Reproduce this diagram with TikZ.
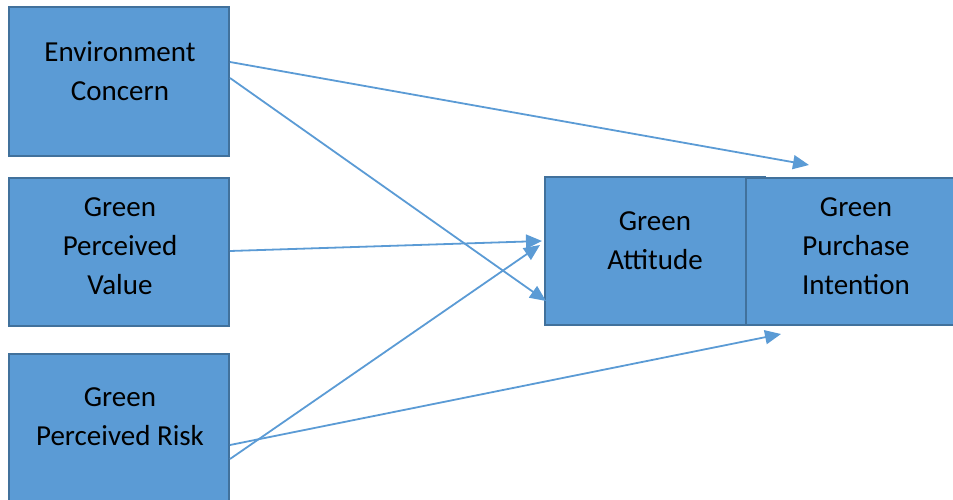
\documentclass[tikz,border=0pt]{standalone}
\usepackage{fontspec}
\setmainfont{Carlito}
\usetikzlibrary{calc}
\usetikzlibrary{arrows.meta}
\definecolor{boxblue}{HTML}{5B9BD5}
\definecolor{boxline}{HTML}{41719C}
\tikzset{basic box/.style={draw=boxline,fill=boxblue,line width=2pt,rectangle,inner sep=0pt}}
\tikzset{box text/.style={align=center,font=\fontsize{29pt}{39pt}\selectfont,inner sep=0pt}}
\tikzset{link/.style={draw=boxblue,line width=1.8pt,-{Triangle[length=16pt,width=14pt]}}}

\begin{document}
\begin{tikzpicture}
      [
      x=1pt,y=-1pt,
      my box/.style={basic box,
      minimum width=220pt},
      ]
      \useasboundingbox (0,0) rectangle (953,500);
      \clip (0,0) rectangle (953,500);

      % boxes
      \node [my box,minimum height=149pt] (EC) at (119,81.5) {};
      \node [my box,minimum height=148pt] (GPV) at (119,252) {};
      \node [my box,minimum height=166pt] (GPR) at (119,437) {};
      \node [my box,minimum height=148pt] (GA) at (655,251) {};
      \node [my box,minimum width=229pt,minimum height=147pt] (GPI) at (860.5,251.5) {};

      % texts
      \node [box text] (ECtext) at (120,71) {Environment\\Concern};
      \node [box text] (GPVtext) at (120,246) {Green\\Perceived\\Value};
      \node [box text] (GPRtext) at (120,417) {Green\\Perceived Risk};
      \node [box text] (GAtext) at (655,241) {Green\\Attitude};
      \node [box text] (GPItext) at (856,246.5) {Green\\Purchase\\Intention};

      % arrow ends
      \coordinate (GPI in1) at ($(GPI.north west)+(64,-12)$);
      \coordinate (GPI in2) at ($(GPI.south west)+(36,8)$);
      \coordinate (GA in1) at ($(GA.north west)+(2,125)$);
      \coordinate (GA in2) at ($(GA.north west)+(-2,65)$);
      \coordinate (GA in3) at ($(GA.north west)+(-4,69)$);

      % arrows
      \path [link] ($(EC.north east)+(0,56)$) -- (GPI in1);
      \path [link] ($(EC.north east)+(0,72)$) -- (GA in1);
      \path [link] ($(GPV.north east)+(0,74)$) -- (GA in2);
      \path [link] ($(GPR.north east)+(0,106)$) -- (GA in3);
      \path [link] ($(GPR.north east)+(0,92)$) -- (GPI in2);

    \end{tikzpicture}
\end{document}
